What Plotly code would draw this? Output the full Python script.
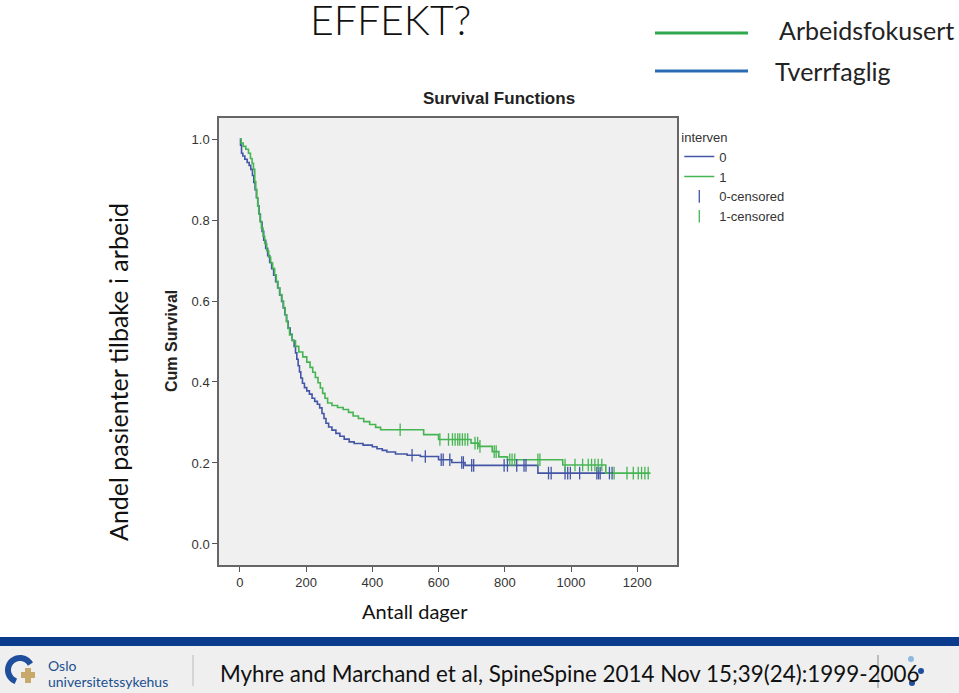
import numpy as np
import plotly.graph_objects as go

# Kaplan-Meier steps (days, cumulative survival)
tverr_days = [0, 2, 5, 9, 15, 22, 28, 33, 38, 42, 46, 50, 54, 58, 62, 67, 72, 78, 84, 90,
              96, 102, 108, 114, 120, 126, 131, 136, 141, 146, 152, 158, 164, 168, 172, 176,
              180, 184, 189, 195, 202, 210, 218, 226, 234, 241, 248, 254, 260, 268, 278, 290,
              302, 315, 330, 345, 372, 400, 414, 430, 444, 470, 505, 545, 600, 640, 680, 900, 1127]
tverr_surv = [1.0, 0.985, 0.965, 0.958, 0.95, 0.942, 0.935, 0.925, 0.91, 0.893, 0.875, 0.855,
              0.835, 0.815, 0.795, 0.772, 0.75, 0.73, 0.712, 0.695, 0.68, 0.664, 0.648, 0.632,
              0.615, 0.599, 0.583, 0.566, 0.55, 0.533, 0.518, 0.503, 0.488, 0.472, 0.456, 0.44,
              0.425, 0.41, 0.397, 0.386, 0.378, 0.37, 0.36, 0.352, 0.345, 0.336, 0.322, 0.31,
              0.298, 0.289, 0.281, 0.273, 0.266, 0.259, 0.252, 0.248, 0.244, 0.24, 0.235, 0.231,
              0.227, 0.222, 0.219, 0.216, 0.208, 0.201, 0.194, 0.175, 0.175]

arb_days = [0, 4, 10, 18, 26, 32, 37, 41, 45, 48, 51, 54, 57, 61, 65, 70, 75, 81, 87, 93, 99,
            105, 110, 115, 121, 127, 132, 137, 141, 145, 150, 158, 168, 178, 190, 202, 212, 220,
            228, 236, 243, 250, 257, 265, 278, 295, 312, 328, 342, 358, 374, 392, 410, 425, 555,
            600, 698, 722, 762, 782, 808, 975, 1105, 1240]
arb_surv = [1.0, 0.99, 0.982, 0.975, 0.965, 0.952, 0.94, 0.925, 0.895, 0.875, 0.855, 0.835,
            0.815, 0.797, 0.78, 0.76, 0.742, 0.724, 0.708, 0.694, 0.68, 0.665, 0.648, 0.632,
            0.616, 0.6, 0.584, 0.566, 0.549, 0.532, 0.516, 0.502, 0.488, 0.474, 0.462, 0.449,
            0.436, 0.424, 0.411, 0.398, 0.385, 0.372, 0.36, 0.348, 0.342, 0.337, 0.332, 0.325,
            0.316, 0.31, 0.302, 0.295, 0.288, 0.282, 0.27, 0.258, 0.249, 0.241, 0.228, 0.215,
            0.208, 0.195, 0.175, 0.175]

tverr_censored = [520, 560, 608, 614, 634, 670, 675, 700, 706, 798, 808, 836, 858, 864,
                  932, 940, 982, 990, 998, 1026, 1078, 1083, 1088, 1116, 1124]
arb_censored = [484, 604, 630, 642, 650, 658, 664, 672, 680, 688, 710, 718, 725, 768, 774,
                815, 822, 830, 900, 906, 982, 1012, 1035, 1052, 1062, 1072, 1082, 1093,
                1130, 1169, 1188, 1203, 1213, 1223, 1233]

x_ticks = [0, 200, 400, 600, 800, 1000, 1200]
y_ticks = [0.0, 0.2, 0.4, 0.6, 0.8, 1.0]

blue = '#4355a5'
green = '#45b552'

W, H = 959, 693
L, R, T, B = 219, 677, 118, 565


def px(x):
  return (x - L) / (R - L)


def py(y):
  return (B - y) / (B - T)


def surv_at(days, surv, t):
  idx = np.searchsorted(np.asarray(days), np.asarray(t), side='right') - 1
  return np.asarray(surv)[idx]


fig = go.Figure()
fig.add_trace(go.Scatter(x=tverr_days, y=tverr_surv, mode='lines', line_shape='hv',
                         line=dict(color=blue, width=1.6), name='0'))
fig.add_trace(go.Scatter(x=arb_days, y=arb_surv, mode='lines', line_shape='hv',
                         line=dict(color=green, width=1.6), name='1'))
fig.add_trace(go.Scatter(x=tverr_censored, y=surv_at(tverr_days, tverr_surv, tverr_censored),
                         mode='markers', name='0-censored',
                         marker=dict(symbol='line-ns', size=9, line=dict(color=blue, width=1.3))))
fig.add_trace(go.Scatter(x=arb_censored, y=surv_at(arb_days, arb_surv, arb_censored),
                         mode='markers', name='1-censored',
                         marker=dict(symbol='line-ns', size=9, line=dict(color=green, width=1.3))))

axis_font = dict(family='Liberation Sans, Arial', size=13, color='#333')
fig.update_xaxes(range=[-63, 1320], tickvals=x_ticks, ticks='outside', ticklen=5, tickcolor='#555',
                 showgrid=False, zeroline=False, showline=True, mirror=True, linecolor='#666',
                 linewidth=1.5, tickfont=axis_font)
fig.update_yaxes(range=[-0.052, 1.052], tickvals=y_ticks, tickformat='.1f', ticks='outside',
                 ticklen=5, tickcolor='#555', showgrid=False, zeroline=False, showline=True,
                 mirror=True, linecolor='#666', linewidth=1.5, tickfont=axis_font)

slide_font = 'Lato, Open Sans, sans-serif'
spss_font = 'Liberation Sans, Arial'
annotations = [
  dict(text='EFFEKT?', x=px(390), y=py(19), font=dict(family=slide_font, size=41, color='#111', weight=300)),
  dict(text='Arbeidsfokusert', x=px(777), y=py(30), xanchor='left', font=dict(family=slide_font, size=25, color='#222')),
  dict(text='Tverrfaglig', x=px(773), y=py(71), xanchor='left', font=dict(family=slide_font, size=25, color='#222')),
  dict(text='<b>Survival Functions</b>', x=px(499), y=py(98), font=dict(family=spss_font, size=17, color='#222')),
  dict(text='<b>Cum Survival</b>', x=px(171), y=py(341), textangle=-90, font=dict(family=spss_font, size=16, color='#222')),
  dict(text='Andel pasienter tilbake i arbeid', x=px(118), y=py(372), textangle=-90,
       font=dict(family=slide_font, size=25, color='#111')),
  dict(text='Antall dager', x=px(415), y=py(611), font=dict(family=slide_font, size=20, color='#111')),
  dict(text='Oslo', x=px(46), y=py(665), xanchor='left', font=dict(family=slide_font, size=14, color='#1d4f91')),
  dict(text='universitetssykehus', x=px(46), y=py(681), xanchor='left', font=dict(family=slide_font, size=14, color='#1d4f91')),
  dict(text='Myhre and Marchand et al, SpineSpine 2014 Nov 15;39(24):1999-2006', x=px(218), y=py(673),
       xanchor='left', font=dict(family=slide_font, size=22.4, color='#111')),
]
for a in annotations:
  a.update(xref='paper', yref='paper', showarrow=False)
  a.setdefault('xanchor', 'center')
  a.setdefault('yanchor', 'middle')


def rect(x0, y0, x1, y1, color):
  return dict(type='rect', xref='paper', yref='paper', x0=px(x0), x1=px(x1), y0=py(y0), y1=py(y1),
              fillcolor=color, line=dict(width=0), layer='below')


def seg(x0, y0, x1, y1, color, width):
  return dict(type='line', xref='paper', yref='paper', x0=px(x0), x1=px(x1), y0=py(y0), y1=py(y1),
              line=dict(color=color, width=width))


def dot(cx, cy, r, color):
  return dict(type='circle', xref='paper', yref='paper', x0=px(cx - r), x1=px(cx + r),
              y0=py(cy - r), y1=py(cy + r), fillcolor=color, line=dict(width=0))


# logo arc
ang = np.linspace(np.radians(30), np.radians(250), 30)
arc = 'M ' + ' L '.join(f'{px(20 + 12 * np.cos(a)):.4f},{py(670 - 12 * np.sin(a)):.4f}' for a in ang)

shapes = [
  rect(0, 646, W, H, '#efefef'),
  rect(0, 637, W, 646, '#0b3b8c'),
  seg(655, 33, 748, 33, '#2fa84f', 3),
  seg(655, 71, 748, 71, '#2a6ab3', 3),
  seg(193, 655, 193, 686, '#bbbbbb', 1),
  seg(878, 655, 878, 688, '#888888', 1),
  dict(type='path', xref='paper', yref='paper', path=arc, line=dict(color='#1f4e9c', width=6)),
  rect(21, 672, 35, 678, '#c7a96b'),
  rect(25, 668, 31, 683, '#c7a96b'),
  dot(911, 659, 3, '#8fb8e0'),
  dot(921, 671, 3, '#1f4e9c'),
  dot(912, 683, 3, '#1f4e9c'),
]

fig.update_layout(
  width=W, height=H,
  margin=dict(l=L, r=W - R, t=T, b=H - B),
  paper_bgcolor='white', plot_bgcolor='#f0f0f0',
  showlegend=True,
  legend=dict(title=dict(text='interven', font=dict(family=spss_font, size=13, color='#333')),
              x=1.005, y=0.985, xanchor='left', yanchor='top', itemwidth=30,
              font=dict(family=spss_font, size=13, color='#333'), bgcolor='rgba(0,0,0,0)',
              tracegroupgap=0),
  annotations=annotations,
  shapes=shapes,
)

fig.write_html('out.html', config={'displayModeBar': False},
               post_script="document.body.style.margin='0';")
